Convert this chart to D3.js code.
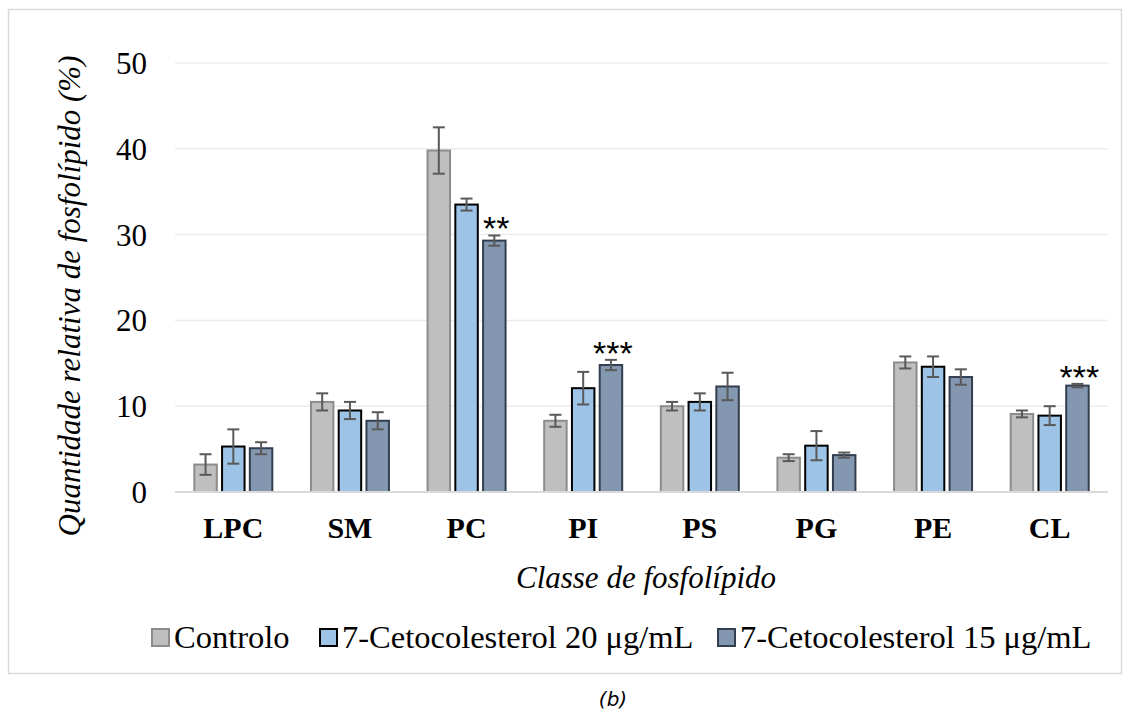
<!DOCTYPE html>
<html>
<head>
<meta charset="utf-8">
<script src="https://cdn.jsdelivr.net/npm/d3@7"></script>
<style>
  body { margin: 0; background: #fff; }
  svg text { font-family: "Liberation Serif", "Times New Roman", serif; fill: #000; }
</style>
</head>
<body>
<svg id="chart" width="1132" height="711"></svg>
<script>
const categories = ['LPC', 'SM', 'PC', 'PI', 'PS', 'PG', 'PE', 'CL'];
const seriesNames = ['Controlo', '7-Cetocolesterol 20 μg/mL', '7-Cetocolesterol 15 μg/mL'];
const controlo = [3.2, 10.5, 39.8, 8.3, 10.0, 4.0, 15.1, 9.1];
const controloErr = [1.2, 1.0, 2.7, 0.7, 0.5, 0.4, 0.7, 0.4];
const ceto20 = [5.3, 9.5, 33.5, 12.1, 10.5, 5.4, 14.6, 8.9];
const ceto20Err = [2.0, 1.0, 0.7, 1.9, 1.0, 1.7, 1.2, 1.1];
const ceto15 = [5.1, 8.3, 29.3, 14.8, 12.3, 4.3, 13.4, 12.4];
const ceto15Err = [0.7, 1.0, 0.6, 0.6, 1.6, 0.3, 0.9, 0.2];
const signif = ['', '', '**', '***', '', '', '', '***'];
const yTicks = [0, 10, 20, 30, 40, 50];

const fills = ['#bfbfbf', '#9dc3e6', '#8497b0'];
const strokes = ['#8c8c8c', '#000000', '#333f50'];

const values = [controlo, ceto20, ceto15];
const errs = [controloErr, ceto20Err, ceto15Err];

const rows = categories.flatMap((c, i) =>
  seriesNames.map((s, k) => ({ cat: c, s: k, v: values[k][i], e: errs[k][i] }))
);

const serif = '"Liberation Serif", "Times New Roman", serif';
const svg = d3.select('#chart');
const margin = { left: 175, right: 1108, top: 63, bottom: 492 };

// chart border
svg.append('rect')
  .attr('x', 8.5).attr('y', 9.5).attr('width', 1113).attr('height', 664)
  .attr('fill', 'none').attr('stroke', '#d9d9d9').attr('stroke-width', 1.5);

const x = d3.scaleBand().domain(categories).range([margin.left, margin.right]);
const xs = d3.scaleBand().domain([0, 1, 2]).range([-39, 39]).paddingInner(0.19);
const y = d3.scaleLinear().domain([0, 50]).range([margin.bottom, margin.top]);

// gridlines
svg.append('g')
  .selectAll('line')
  .data(yTicks.filter(d => d > 0))
  .join('line')
  .attr('x1', margin.left).attr('x2', margin.right)
  .attr('y1', d => y(d)).attr('y2', d => y(d))
  .attr('stroke', '#ececec').attr('stroke-width', 1.5);

// y tick labels
svg.append('g')
  .selectAll('text')
  .data(yTicks)
  .join('text')
  .attr('x', 147).attr('y', d => y(d) + 11)
  .attr('text-anchor', 'end')
  .style('font-family', serif)
  .style('font-size', '31px')
  .text(d => d);

// bars
const bars = svg.append('g');
bars.selectAll('rect')
  .data(rows)
  .join('rect')
  .attr('x', d => x(d.cat) + x.bandwidth() / 2 + xs(d.s))
  .attr('y', d => y(d.v))
  .attr('width', xs.bandwidth())
  .attr('height', d => y(0) - y(d.v))
  .attr('fill', d => fills[d.s])
  .attr('stroke', d => strokes[d.s])
  .attr('stroke-width', 2);

// baseline
svg.append('line')
  .attr('x1', margin.left).attr('x2', margin.right)
  .attr('y1', y(0)).attr('y2', y(0))
  .attr('stroke', '#d9d9d9').attr('stroke-width', 2);

// error bars
const eb = svg.append('g').attr('stroke', '#595959').attr('stroke-width', 2);
rows.forEach(d => {
  const cx = x(d.cat) + x.bandwidth() / 2 + xs(d.s) + xs.bandwidth() / 2;
  eb.append('line').attr('x1', cx).attr('x2', cx).attr('y1', y(d.v + d.e)).attr('y2', y(d.v - d.e));
  eb.append('line').attr('x1', cx - 6).attr('x2', cx + 6).attr('y1', y(d.v + d.e)).attr('y2', y(d.v + d.e));
  eb.append('line').attr('x1', cx - 6).attr('x2', cx + 6).attr('y1', y(d.v - d.e)).attr('y2', y(d.v - d.e));
});

// significance marks
svg.append('g')
  .selectAll('text')
  .data(categories.map((c, i) => ({ cat: c, s: signif[i], top: ceto15[i] + ceto15Err[i] })).filter(d => d.s))
  .join('text')
  .attr('x', d => x(d.cat) + x.bandwidth() / 2 + xs(2) + xs.bandwidth() / 2 + 2)
  .attr('y', d => y(d.top) + 5)
  .attr('text-anchor', 'middle')
  .style('font-family', '"Liberation Sans", Arial, sans-serif')
  .style('font-size', '34px')
  .text(d => d.s);

// category labels
svg.append('g')
  .selectAll('text')
  .data(categories)
  .join('text')
  .attr('x', d => x(d) + x.bandwidth() / 2)
  .attr('y', 538)
  .attr('text-anchor', 'middle')
  .style('font-family', serif)
  .style('font-size', '30px')
  .style('font-weight', 'bold')
  .text(d => d);

// axis titles
svg.append('text')
  .attr('x', 646).attr('y', 588)
  .attr('text-anchor', 'middle')
  .style('font-family', serif)
  .style('font-size', '31px').style('font-style', 'italic')
  .text('Classe de fosfolípido');

svg.append('text')
  .attr('transform', 'translate(80, 296) rotate(-90)')
  .attr('text-anchor', 'middle')
  .style('font-family', serif)
  .style('font-size', '31px').style('font-style', 'italic')
  .text('Quantidade relativa de fosfolípido (%)');

// legend
const legendX = [152, 320, 718];
const lg = svg.append('g');
seriesNames.forEach((name, k) => {
  lg.append('rect')
    .attr('x', legendX[k]).attr('y', 629).attr('width', 17).attr('height', 17)
    .attr('fill', fills[k]).attr('stroke', strokes[k]).attr('stroke-width', 2);
  lg.append('text')
    .attr('x', legendX[k] + 22).attr('y', 648)
    .style('font-family', serif)
    .style('font-size', '32.5px')
    .text(name);
});

// caption
svg.append('text')
  .attr('x', 613).attr('y', 706)
  .attr('text-anchor', 'middle')
  .style('font-family', '"DejaVu Sans", sans-serif')
  .style('font-size', '20px').style('font-style', 'italic')
  .text('(b)');
</script>
</body>
</html>
